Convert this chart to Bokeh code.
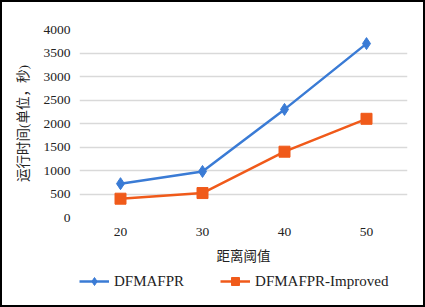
from bokeh.plotting import figure
from bokeh.models import Legend, LegendItem, FixedTicker
from bokeh.layouts import column
from bokeh.embed import file_html
from bokeh.resources import INLINE

categories = ["20", "30", "40", "50"]
dfmafpr = [720, 980, 2300, 3700]
improved = [400, 520, 1400, 2100]
y_ticks = [0, 500, 1000, 1500, 2000, 2500, 3000, 3500, 4000]

FONT = "'Liberation Serif', 'Times New Roman', 'Noto Sans CJK SC', serif"
BLUE = "#3a7bd5"
ORANGE = "#f05a1a"

p = figure(x_range=categories, y_range=(0, 4000), width=421, height=268,
           output_backend="svg", toolbar_location=None,
           min_border_left=77, min_border_right=16, min_border_top=27, min_border_bottom=53)
p.outline_line_color = None
p.background_fill_color = "white"
p.border_fill_color = "white"

p.xgrid.grid_line_color = None
p.ygrid.grid_line_color = "#d9d9d9"
p.ygrid.grid_line_width = 1.3
p.yaxis.ticker = FixedTicker(ticks=y_ticks)

for ax in (p.xaxis[0], p.yaxis[0]):
    ax.axis_line_color = None
    ax.major_tick_line_color = None
    ax.minor_tick_line_color = None
    ax.major_label_text_font = FONT
    ax.major_label_text_font_size = "13.5px"
    ax.major_label_text_color = "#222222"
    ax.axis_label_text_font = FONT
    ax.axis_label_text_font_size = "13.5px"
    ax.axis_label_text_font_style = "normal"
    ax.axis_label_text_color = "#222222"

p.yaxis.major_label_standoff = 3
p.xaxis.major_label_standoff = 4
p.yaxis.axis_label = "运行时间(单位，秒)"
p.xaxis.axis_label = "距离阈值"
p.yaxis.axis_label_standoff = 10
p.xaxis.axis_label_standoff = 10

p.line(categories, dfmafpr, line_color=BLUE, line_width=2.5)
p.scatter(categories, dfmafpr, marker="diamond", size=12, fill_color=BLUE, line_color=BLUE)
p.line(categories, improved, line_color=ORANGE, line_width=2.5)
p.scatter(categories, improved, marker="square", size=11, fill_color=ORANGE, line_color=ORANGE)

# legend strip: same series drawn off-view, only the legend shows
q = figure(x_range=categories, y_range=(100000, 100001), width=421, height=35,
           output_backend="svg", toolbar_location=None,
           x_axis_location=None, y_axis_location=None,
           min_border_left=0, min_border_right=0, min_border_top=0, min_border_bottom=0)
q.grid.visible = False
q.outline_line_color = None
q.border_fill_color = "white"
ql1 = q.line(categories, dfmafpr, line_color=BLUE, line_width=2.5)
qm1 = q.scatter(categories, dfmafpr, marker="diamond", size=12, fill_color=BLUE, line_color=BLUE)
ql2 = q.line(categories, improved, line_color=ORANGE, line_width=2.5)
qm2 = q.scatter(categories, improved, marker="square", size=11, fill_color=ORANGE, line_color=ORANGE)

legend = Legend(items=[LegendItem(label="DFMAFPR", renderers=[ql1, qm1]),
                       LegendItem(label="DFMAFPR-Improved", renderers=[ql2, qm2])],
                orientation="horizontal", location=(0, 14),
                border_line_color=None, background_fill_alpha=0,
                label_text_font=FONT, label_text_font_size="15px",
                label_text_color="#222222", glyph_width=30, spacing=36,
                label_standoff=5, margin=0, padding=0)
q.add_layout(legend, "center")

layout = column(p, q, spacing=0, styles={"border": "2px solid #000"})

open("out.html", "w").write(file_html(layout, INLINE))
